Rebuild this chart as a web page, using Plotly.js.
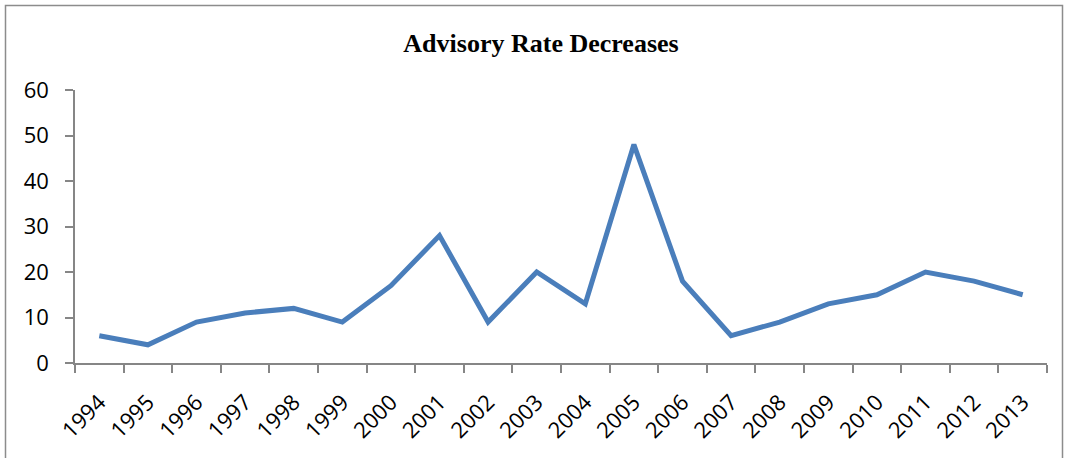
<!DOCTYPE html>
<html>
<head>
<meta charset="utf-8">
<script src="https://cdn.plot.ly/plotly-3.0.1.min.js"></script>
<style>html,body{margin:0;padding:0;background:#fff;}#chart{width:1068px;height:458px;}</style>
</head>
<body>
<div id="chart"></div>
<script>
const years = ["1994","1995","1996","1997","1998","1999","2000","2001","2002","2003","2004","2005","2006","2007","2008","2009","2010","2011","2012","2013"];
const decreases = [6,4,9,11,12,9,17,28,9,20,13,48,18,6,9,13,15,20,18,15];
const yTicks = [0,10,20,30,40,50,60];
const chartTitle = "Advisory Rate Decreases";

const W = 1068, H = 458;
const m = {l:75, r:21, t:90, b:95};
const pw = W - m.l - m.r, ph = H - m.t - m.b;
function px(x){ return (x - m.l)/pw; }
function py(y){ return (H - m.b - y)/ph; }

const tickFont = {family: '"Open Sans", "Liberation Sans", sans-serif', size: 22, color: '#000'};

const trace = {
  x: years, y: decreases, type: 'scatter', mode: 'lines',
  line: {color: '#4a7ebb', width: 5},
  hoverinfo: 'x+y'
};

const layout = {
  width: W, height: H,
  margin: m,
  paper_bgcolor: '#ffffff', plot_bgcolor: '#ffffff',
  showlegend: false,
  title: {
    text: '<b>' + chartTitle + '</b>',
    font: {family: '"Liberation Serif", "Times New Roman", serif', size: 26, color: '#000'},
    x: 541/W, xanchor: 'center', xref: 'container',
    y: 1 - 43/H, yanchor: 'middle', yref: 'container'
  },
  xaxis: {
    type: 'category', range: [-0.5, 19.5],
    showgrid: false, zeroline: false,
    showline: true, linecolor: '#868686', linewidth: 1.5,
    ticks: 'outside', ticklen: 8, tickwidth: 1.5, tickcolor: '#868686',
    tickson: 'boundaries',
    tickangle: -45,
    ticklabelstandoff: 16,
    tickfont: tickFont,
    fixedrange: true
  },
  yaxis: {
    range: [0, 60], tickvals: yTicks, ticktext: yTicks.map(String),
    showgrid: false, zeroline: false,
    showline: true, linecolor: '#868686', linewidth: 1.5,
    ticks: 'outside', ticklen: 8, tickwidth: 1.5, tickcolor: '#868686',
    ticklabelstandoff: 12,
    tickfont: tickFont,
    fixedrange: true
  },
  shapes: [{
    type: 'rect', xref: 'paper', yref: 'paper',
    x0: px(5.5), x1: px(1062.5), y0: py(5.5), y1: py(470),
    line: {color: '#8c8c8c', width: 1.5}, fillcolor: 'rgba(0,0,0,0)', layer: 'below'
  }]
};

Plotly.newPlot('chart', [trace], layout, {displayModeBar: false});
</script>
</body>
</html>
